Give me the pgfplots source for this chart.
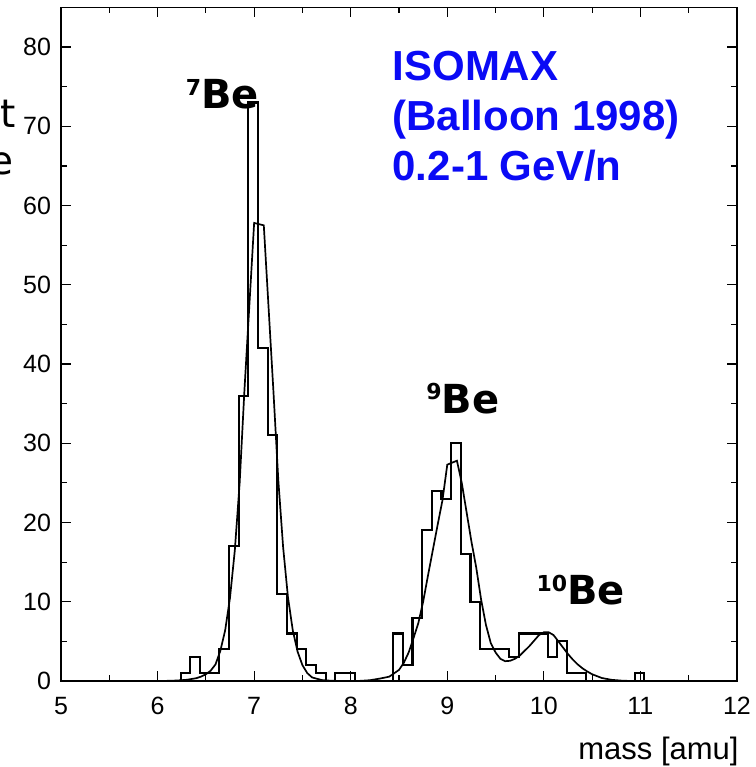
\documentclass[border=0pt]{standalone}
\usepackage{fontspec}
\setmainfont{Liberation Sans}
\newfontfamily\djv{DejaVu Sans}
\usepackage{pgfplots}
\pgfplotsset{compat=1.18}
\definecolor{isoblue}{RGB}{10,10,245}
\begin{document}
\begin{tikzpicture}[x=1pt,y=1pt]
\useasboundingbox (0,0) rectangle (378,383.5);
\begin{axis}[
  at={(30.5pt,43pt)}, anchor=south west,
  scale only axis, width=338pt, height=336.8pt,
  xmin=5, xmax=12, ymin=0, ymax=85,
  xtick={5,6,...,12}, ytick={0,10,...,80},
  minor xtick={5.5,6.5,...,11.5}, minor ytick={5,15,...,75},
  tick align=inside, xtick pos=both, ytick pos=both,
  major tick length=5pt, minor tick length=3pt,
  tick style={black, line width=0.6pt},
  axis line style={line width=0.75pt},
  tick label style={font=\fontsize{12.5}{14}\selectfont},
  /pgf/number format/assume math mode=true,
  yticklabel style={xshift=-1.5pt},
  xticklabel style={yshift=-4.5pt},
  clip=false,
]
\addplot[const plot, black, line width=1.05pt] coordinates {
(6.14,0) (6.24,1) (6.34,3) (6.44,1) (6.54,1) (6.64,4) (6.74,17) (6.84,36)
(6.94,73) (7.04,42) (7.14,31) (7.24,11) (7.34,6) (7.44,4) (7.54,2) (7.64,1)
(7.74,0) (7.84,1) (7.94,1) (8.04,0) (8.44,6) (8.54,2) (8.64,8) (8.74,19)
(8.84,24) (8.94,23) (9.04,30) (9.14,16) (9.24,10) (9.34,4) (9.64,3) (9.74,6)
(10.04,3) (10.14,5) (10.24,1) (10.44,0) (10.94,1) (11.04,0) (11.2,0)
};
\addplot[black, line width=0.85pt] coordinates {
(5.9,0) (6.0,0) (6.1,0.02) (6.2,0.06) (6.3,0.15) (6.4,0.35) (6.45,0.55)
(6.5,0.85) (6.55,1.3) (6.6,2.1) (6.65,3.8) (6.7,6.4) (6.75,10.5) (6.8,16.5)
(6.85,25) (6.9,36.8) (7.0,57.8) (7.1,57.5) (7.2,36.5) (7.25,25.4) (7.3,16.9)
(7.35,10.6) (7.4,6.4) (7.45,3.7) (7.5,2.0) (7.55,1.0) (7.6,0.45) (7.7,0.12)
(7.8,0.03) (7.9,0) (8.0,0) (8.1,0.02) (8.2,0.1) (8.3,0.3) (8.4,0.55)
(8.5,1.4) (8.55,2.3) (8.6,3.6) (8.65,5.4) (8.7,7.3) (8.75,10) (8.8,13.3)
(8.85,16.5) (8.9,19.7) (8.95,22.8) (9.0,27.3) (9.1,27.8) (9.15,25)
(9.2,21.3) (9.25,17.6) (9.3,14.3) (9.35,10.3) (9.4,7.1) (9.45,4.8)
(9.5,3.6) (9.55,2.8) (9.6,2.5) (9.65,2.55) (9.7,2.8) (9.75,3.2) (9.8,3.8)
(9.85,4.4) (9.9,5.1) (9.95,5.8) (10.0,6.15) (10.05,6.15) (10.1,5.8)
(10.15,5.0) (10.2,4.2) (10.25,3.4) (10.3,2.7) (10.35,2.1) (10.4,1.6)
(10.45,1.2) (10.5,0.85) (10.6,0.38) (10.7,0.15) (10.8,0.05) (10.9,0) (11.0,0)
};
\node[anchor=base west, inner sep=0pt, text=isoblue, font=\fontsize{21}{25}\selectfont\bfseries] at (axis cs:8.43,75.75) {ISOMAX};
\node[anchor=base west, inner sep=0pt, text=isoblue, font=\fontsize{21}{25}\selectfont\bfseries] at (axis cs:8.43,69.5) {(Balloon 1998)};
\node[anchor=base west, inner sep=0pt, text=isoblue, font=\fontsize{21}{25}\selectfont\bfseries] at (axis cs:8.43,63.2) {0.2-1 GeV/n};
\node[anchor=base west, inner sep=0pt, font=\djv\bfseries\fontsize{20}{24}\selectfont] at (axis cs:6.29,72.27) {\raisebox{6.6pt}{\fontsize{11}{12}\selectfont 7}Be};
\node[anchor=base west, inner sep=0pt, font=\djv\bfseries\fontsize{20}{24}\selectfont] at (axis cs:8.78,33.8) {\raisebox{6.6pt}{\fontsize{11}{12}\selectfont 9}Be};
\node[anchor=base west, inner sep=0pt, font=\djv\bfseries\fontsize{20}{24}\selectfont] at (axis cs:9.92,9.68) {\raisebox{6.6pt}{\fontsize{11}{12}\selectfont 10}Be};
\end{axis}
\node[anchor=base east, inner sep=0pt, font=\djv\fontsize{19.5}{24}\selectfont] at (8,319.5) {Count};
\node[anchor=base east, inner sep=0pt, font=\djv\fontsize{19.5}{24}\selectfont] at (7,296) {rate};
\node[anchor=base east, inner sep=0pt, font=\fontsize{15.5}{18}\selectfont] at (369.5,3.5) {mass [amu]};
\end{tikzpicture}
\end{document}
